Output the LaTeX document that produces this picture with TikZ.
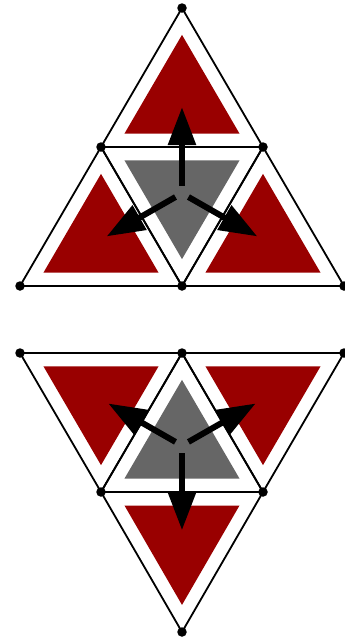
\documentclass[tikz,border=0pt]{standalone}
\usepackage{tikz}
\usetikzlibrary{calc,arrows.meta}

\definecolor{darkred}{HTML}{990000}
\definecolor{midgray}{HTML}{666666}

\tikzset{
    edge/.style={draw=black, line width=1.8pt, line join=round},
    dot/.style={circle, fill=black, inner sep=0pt, minimum size=9.5pt},
    flow/.style={line width=6pt, -{Triangle[length=38pt,width=27pt]}},
}

% corners, centre name, colour
\newcommand{\piece}[5]{%
    \coordinate (#4) at ($0.3333*(#1)+0.3333*(#2)+0.3333*(#3)$);
    \fill[#5] ($(#4)!0.71!(#1)$) -- ($(#4)!0.71!(#2)$) -- ($(#4)!0.71!(#3)$) -- cycle;
    \draw[edge] (#1) -- (#2) -- (#3) -- cycle;
}

\begin{document}
\begin{tikzpicture}[x=1pt, y=-1pt]
    \useasboundingbox (0,0) rectangle (345,640);

    % upper triangle
    \coordinate (aTop) at (182,8);
    \coordinate (aL) at (101,147);
    \coordinate (aR) at (263,147);
    \coordinate (aBL) at (20,286);
    \coordinate (aBM) at (182,286);
    \coordinate (aBR) at (344,286);

    \piece{aTop}{aL}{aR}{aUp}{darkred}
    \piece{aL}{aBL}{aBM}{aLeft}{darkred}
    \piece{aR}{aBM}{aBR}{aRight}{darkred}
    \piece{aL}{aR}{aBM}{aMid}{midgray}

    % lower triangle
    \coordinate (bTL) at (20,353);
    \coordinate (bTM) at (182,353);
    \coordinate (bTR) at (344,353);
    \coordinate (bL) at (101,492);
    \coordinate (bR) at (263,492);
    \coordinate (bBot) at (182,632);

    \piece{bTL}{bTM}{bL}{bLeft}{darkred}
    \piece{bTM}{bTR}{bR}{bRight}{darkred}
    \piece{bL}{bR}{bBot}{bDown}{darkred}
    \piece{bTM}{bL}{bR}{bMid}{midgray}

    \foreach \v in {aTop,aL,aR,aBL,aBM,aBR,bTL,bTM,bTR,bL,bR,bBot}
        \node[dot] (d\v) at (\v) {};

    \foreach \t in {aUp,aLeft,aRight}
        \draw[flow] ($(aMid)!0.08!(\t)$) -- ($(aMid)!0.93!(\t)$);
    \foreach \t in {bLeft,bRight,bDown}
        \draw[flow] ($(bMid)!0.08!(\t)$) -- ($(bMid)!0.91!(\t)$);
\end{tikzpicture}
\end{document}
